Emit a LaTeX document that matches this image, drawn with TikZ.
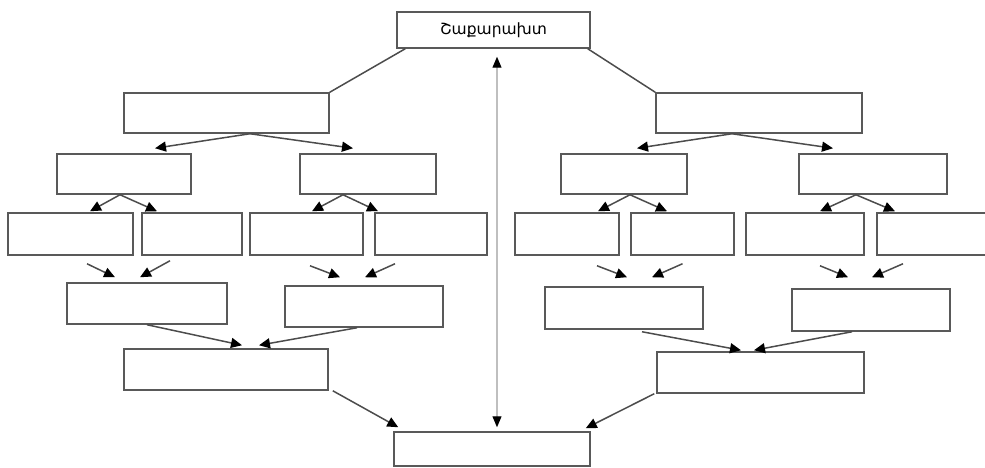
\documentclass[tikz,border=0pt]{standalone}
\usepackage{fontspec}
\usepackage{tikz}
\usetikzlibrary{arrows.meta}
\newfontfamily\armfont[Script=Armenian]{DejaVu Sans}
\tikzset{
    box/.style={rectangle, draw=black!65, line width=1.5pt, inner sep=0pt, minimum height=40pt},
    link/.style={line width=1.5pt, black!70},
    arrow/.style={link, -{Triangle[length=11pt, width=10pt, black]}},
    % two-way line in the middle
    twoway/.style={line width=1.2pt, black!25, {Triangle[length=11pt, width=9pt, black]}-{Triangle[length=11pt, width=9pt, black]}}
}

\begin{document}
\begin{tikzpicture}[x=1pt, y=-1pt]
\useasboundingbox (0,0) rectangle (985,468);

% Top and bottom
\node[box, minimum width=193, minimum height=36] (top) at (493.5,30) {\armfont\fontsize{15.5}{17}\selectfont Շաքարախտ};
\node[box, minimum width=196, minimum height=34] (bottom) at (492,449) {};

% Level 1
\node[box, minimum width=205] (l1) at (226.5,113) {};
\node[box, minimum width=206] (r1) at (759,113) {};

% Level 2
\node[box, minimum width=134] (a) at (124,174) {};
\node[box, minimum width=136] (b) at (368,174) {};
\node[box, minimum width=126] (c) at (624,174) {};
\node[box, minimum width=148] (d) at (873,174) {};

% Leaves
\foreach \n/\x/\w in {1/70.5/125, 2/192/100, 3/306.5/113, 4/431/112,
                      5/567/104, 6/682.5/103, 7/805/118, 8/941/128} {
    \node[box, minimum width=\w, minimum height=42] (leaf\n) at (\x,234) {};
}

% Level 4
\node[box, minimum width=160, minimum height=41] (e) at (147,303.5) {};
\node[box, minimum width=158, minimum height=41] (f) at (364,306.5) {};
\node[box, minimum width=158, minimum height=42] (g) at (624,308) {};
\node[box, minimum width=158, minimum height=42] (h) at (871,310) {};

% Level 5
\node[box, minimum width=204, minimum height=41] (i) at (226,369.5) {};
\node[box, minimum width=207, minimum height=41] (j) at (760.5,372.5) {};

% Connections
\draw[link] ([xshift=9]top.south west) -- (l1.north east);
\draw[link] ([xshift=-3]top.south east) -- (r1.north west);

\draw[arrow] ([xshift=23.5]l1.south) -- ([xshift=31, yshift=5]a.north);
\draw[arrow] ([xshift=23.5]l1.south) -- ([xshift=-15, yshift=5]b.north);
\draw[arrow] ([xshift=-27]r1.south) -- ([xshift=13, yshift=5]c.north);
\draw[arrow] ([xshift=-27]r1.south) -- ([xshift=-40, yshift=5]d.north);

\draw[arrow] ([xshift=-4]a.south) -- ([xshift=19.5, yshift=1]leaf1.north);
\draw[arrow] ([xshift=-4]a.south) -- ([xshift=-35, yshift=1]leaf2.north);
\draw[arrow] ([xshift=-25]b.south) -- ([xshift=5.5, yshift=1]leaf3.north);
\draw[arrow] ([xshift=-25]b.south) -- ([xshift=-53, yshift=1]leaf4.north);
\draw[arrow] ([xshift=6]c.south) -- ([xshift=31, yshift=1]leaf5.north);
\draw[arrow] ([xshift=6]c.south) -- ([xshift=-15.5, yshift=1]leaf6.north);
\draw[arrow] ([xshift=-17]d.south) -- ([xshift=15, yshift=1]leaf7.north);
\draw[arrow] ([xshift=-17]d.south) -- ([xshift=-46, yshift=1]leaf8.north);

\draw[arrow] ([xshift=16.5, yshift=-8]leaf1.south) -- ([xshift=-32, yshift=5]e.north);
\draw[arrow] ([xshift=-22, yshift=-5]leaf2.south) -- ([xshift=-7, yshift=5]e.north);
\draw[arrow] ([xshift=3.5, yshift=-10]leaf3.south) -- ([xshift=-24, yshift=8]f.north);
\draw[arrow] ([xshift=-36, yshift=-8]leaf4.south) -- ([xshift=1, yshift=8]f.north);
\draw[arrow] ([xshift=30, yshift=-10]leaf5.south) -- ([xshift=3, yshift=9]g.north);
\draw[arrow] ([xshift=0, yshift=-8]leaf6.south) -- ([xshift=28, yshift=9]g.north);
\draw[arrow] ([xshift=15, yshift=-10]leaf7.south) -- ([xshift=-23, yshift=11]h.north);
\draw[arrow] ([xshift=-38, yshift=-8]leaf8.south) -- ([xshift=1, yshift=11]h.north);

\draw[arrow] (e.south) -- ([xshift=16, yshift=3]i.north);
\draw[arrow] ([xshift=-7]f.south) -- ([xshift=33, yshift=3]i.north);
\draw[arrow] ([xshift=18, yshift=-2]g.south) -- ([xshift=-19.5, yshift=1]j.north);
\draw[arrow] ([xshift=-19]h.south) -- ([xshift=-6.5, yshift=1]j.north);

\draw[arrow] ([xshift=4]i.south east) -- ([xshift=5, yshift=4]bottom.north west);
\draw[arrow] ([xshift=-2]j.south west) -- ([xshift=-5, yshift=3]bottom.north east);

\draw[twoway] ([xshift=3.5, yshift=-8]top.south) -- ([xshift=5, yshift=4]bottom.north);
\end{tikzpicture}
\end{document}
